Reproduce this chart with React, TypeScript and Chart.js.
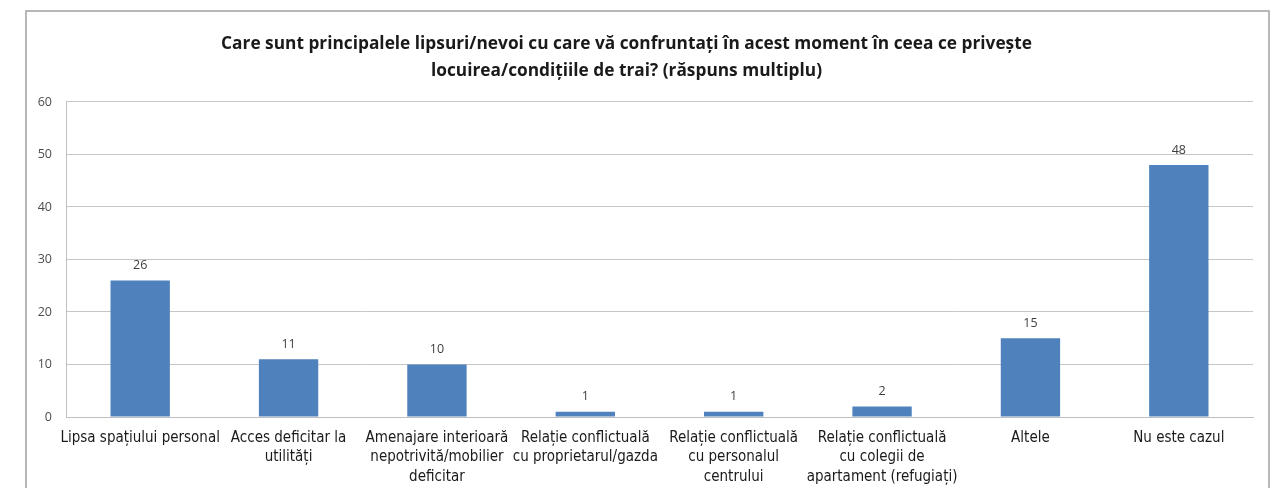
import React, { useEffect, useRef } from "react";
import { Chart, registerables } from "chart.js";

Chart.register(...registerables);

const titleLines = [
  "Care sunt principalele lipsuri/nevoi cu care vă confruntați în acest moment în ceea ce privește",
  "locuirea/condițiile de trai? (răspuns multiplu)",
];

const categories: (string | string[])[] = [
  "Lipsa spațiului personal",
  ["Acces deficitar la", "utilități"],
  ["Amenajare interioară", "nepotrivită/mobilier", "deficitar"],
  ["Relație conflictuală", "cu proprietarul/gazda"],
  ["Relație conflictuală", "cu personalul", "centrului"],
  ["Relație conflictuală", "cu colegii de", "apartament (refugiați)"],
  "Altele",
  "Nu este cazul",
];

const values = [26, 11, 10, 1, 1, 2, 15, 48];

const yMin = 0;
const yMax = 60;
const yStep = 10;

const borderPlugin = {
  id: "outerBorder",
  beforeDraw(chart: any) {
    const ctx = chart.ctx;
    ctx.save();
    ctx.strokeStyle = "#a0a0a0";
    ctx.lineWidth = 1.5;
    ctx.strokeRect(26, 11, 1243, 500);
    ctx.restore();
  },
};

const valueLabelPlugin = {
  id: "valueLabels",
  afterDatasetsDraw(chart: any) {
    const ctx = chart.ctx;
    const meta = chart.getDatasetMeta(0);
    ctx.save();
    ctx.font = "12.5px 'Open Sans', 'Noto Sans', sans-serif";
    ctx.fillStyle = "#404040";
    ctx.textAlign = "center";
    ctx.textBaseline = "middle";
    meta.data.forEach((bar: any, i: number) => {
      ctx.fillText(String(values[i]), bar.x, bar.y - 15);
    });
    ctx.restore();
  },
};

export default function App() {
  const canvasRef = useRef<HTMLCanvasElement | null>(null);

  useEffect(() => {
    if (!canvasRef.current) return;
    const chart = new Chart(canvasRef.current, {
      type: "bar",
      data: {
        labels: categories,
        datasets: [
          {
            data: values,
            backgroundColor: "#4f81bd",
            borderWidth: 0,
            barPercentage: 0.4,
            categoryPercentage: 1,
          },
        ],
      },
      options: {
        animation: false,
        responsive: true,
        maintainAspectRatio: false,
        layout: { padding: { left: 0, right: 21, top: 0, bottom: 0 } },
        plugins: {
          legend: { display: false },
          tooltip: { enabled: false },
          title: {
            display: true,
            text: titleLines,
            color: "#1a1a1a",
            font: { family: "'Open Sans', 'Noto Sans', sans-serif", size: 17.3, weight: "bold", lineHeight: 1.56 },
            padding: { top: 31, bottom: 17 },
          },
        },
        scales: {
          x: {
            grid: { display: false, drawTicks: false },
            border: { display: true, color: "#bfbfbf", width: 1 },
            ticks: {
              color: "#1a1a1a",
              padding: 12,
              maxRotation: 0,
              autoSkip: false,
              font: { family: "'Liberation Sans Narrow', 'DejaVu Sans Condensed', sans-serif", size: 15, lineHeight: 1.27 },
            },
            afterFit(scale: any) {
              scale.height = 71;
            },
          },
          y: {
            min: yMin,
            max: yMax,
            grid: { color: "#c6c6c6", lineWidth: 1, drawTicks: false },
            border: { display: true, color: "#bfbfbf", width: 1 },
            ticks: {
              stepSize: yStep,
              color: "#4d4d4d",
              padding: 14,
              font: { family: "'Open Sans', 'Noto Sans', sans-serif", size: 12.5 },
            },
            afterFit(scale: any) {
              scale.width = 66;
            },
          },
        },
      },
      plugins: [borderPlugin, valueLabelPlugin],
    });
    return () => chart.destroy();
  }, []);

  return (
    <div style={{ position: "fixed", left: 0, top: 0, width: 1274, height: 488, background: "#fff" }}>
      <canvas ref={canvasRef} />
    </div>
  );
}
